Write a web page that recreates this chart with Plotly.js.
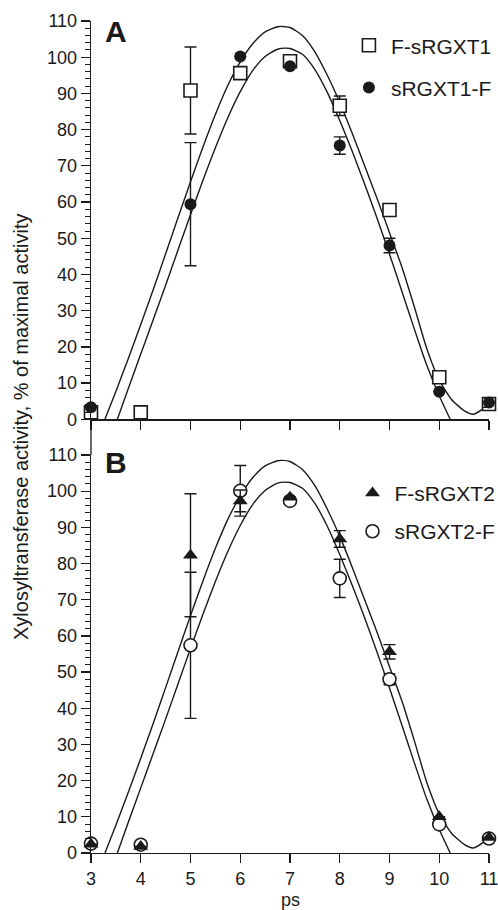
<!DOCTYPE html>
<html>
<head>
<meta charset="utf-8">
<script src="https://cdn.plot.ly/plotly-3.0.1.min.js"></script>
<style>html,body{margin:0;padding:0;background:#fff;}#chart{width:498px;height:910px;}</style>
</head>
<body>
<div id="chart"></div>
<script>
// ---- data ----
const ps = [3, 4, 5, 6, 7, 8, 9, 10, 11];
const xTicks = [3, 4, 5, 6, 7, 8, 9, 10, 11];
const yTicks = [0, 10, 20, 30, 40, 50, 60, 70, 80, 90, 100, 110];

// Panel A
const fSRGXT1 = [1.9, 1.9, 90.8, 95.6, 98.9, 86.6, 57.8, 11.6, 4.2];
const fSRGXT1Err = [null, null, 12, null, null, 2.7, null, null, null];
const sRGXT1F = [3.3, null, 59.4, 100.2, 97.5, 75.6, 48.0, 7.6, 4.6];
const sRGXT1FErr = [null, null, 17, null, null, 2.4, 2, null, 1.3];

// Panel B
const fSRGXT2 = [2.4, 1.8, 82.3, 97.3, 98.3, 86.8, 55.6, 10.0, 4.3];
const fSRGXT2Err = [null, null, 17, 3, null, 2.3, 2, null, null];
const sRGXT2F = [2.6, 2.3, 57.4, 100.1, 97.3, 75.9, 48.0, 7.9, 4.0];
const sRGXT2FErr = [null, null, 20.2, 7, null, 5.3, 1.5, null, null];

// fitted curves
const fitUpperX = [3.28, 3.5, 3.75, 4.0, 4.25, 4.5, 4.75, 5.0, 5.25, 5.5, 5.75, 6.0, 6.25, 6.5, 6.75, 6.85, 7.0, 7.25, 7.5, 7.75, 8.0, 8.25, 8.5, 8.75, 9.0, 9.25, 9.5, 9.75, 10.0, 10.25, 10.5, 10.68, 10.85, 11.0];
const fitUpperY = [0, 7.7, 16.8, 26.2, 35.8, 45.7, 55.7, 65.6, 75.2, 84.2, 92.2, 98.7, 103.7, 107, 108.4, 108.5, 108.2, 106, 101.5, 95, 87.5, 79, 70, 61, 51.5, 42, 31, 19.5, 10.8, 5.4, 2.4, 1.4, 2.6, 4.5];
const fitLowerX = [3.53, 3.75, 4.0, 4.25, 4.5, 4.75, 5.0, 5.25, 5.5, 5.75, 6.0, 6.25, 6.5, 6.75, 6.9, 7.0, 7.25, 7.5, 7.75, 8.0, 8.25, 8.5, 8.75, 9.0, 9.25, 9.5, 9.75, 10.0, 10.22];
const fitLowerY = [0, 8.5, 18, 27.5, 37, 46.8, 56.5, 66, 75, 83.3, 90.5, 96.3, 100.2, 102.2, 102.5, 102.4, 100.8, 96.6, 90.3, 82.5, 74, 65, 55.5, 45.6, 35.3, 24.9, 14.9, 6.5, 0];

// ---- styling ----
const FONT = 'Liberation Sans, Arial, Helvetica, sans-serif';
const INK = '#1a1a1a';

function err(arr) {
  return {type: 'data', array: arr, visible: true, color: INK, thickness: 1.4, width: 6};
}
function curve(x, y, xa, ya) {
  return {x: x, y: y, xaxis: xa, yaxis: ya, mode: 'lines', showlegend: false, hoverinfo: 'skip',
    line: {color: INK, width: 1.4, shape: 'spline', smoothing: 0.6}, cliponaxis: true};
}

const traces = [
  curve(fitUpperX, fitUpperY, 'x', 'y'),
  curve(fitLowerX, fitLowerY, 'x', 'y'),
  curve(fitUpperX, fitUpperY, 'x2', 'y2'),
  curve(fitLowerX, fitLowerY, 'x2', 'y2'),
  {x: ps, y: fSRGXT1, xaxis: 'x', yaxis: 'y', mode: 'markers', name: 'F-sRGXT1',
   legend: 'legend', legendgroup: 'a1', legendrank: 1, error_y: err(fSRGXT1Err), cliponaxis: false,
   marker: {symbol: 'square', size: 13, color: '#fff', line: {width: 1.6, color: INK}}},
  {x: ps, y: sRGXT1F, xaxis: 'x', yaxis: 'y', mode: 'markers', name: 'sRGXT1-F',
   legend: 'legend', legendgroup: 'a2', legendrank: 2, error_y: err(sRGXT1FErr), cliponaxis: false,
   marker: {symbol: 'circle', size: 12, color: INK, line: {width: 0}}},
  {x: ps, y: sRGXT2F, xaxis: 'x2', yaxis: 'y2', mode: 'markers', name: 'sRGXT2-F',
   legend: 'legend2', legendgroup: 'b2', legendrank: 2, error_y: err(sRGXT2FErr), cliponaxis: false,
   marker: {symbol: 'circle', size: 13, color: '#fff', line: {width: 1.6, color: INK}}},
  {x: ps, y: fSRGXT2, xaxis: 'x2', yaxis: 'y2', mode: 'markers', name: 'F-sRGXT2',
   legend: 'legend2', legendgroup: 'b1', legendrank: 1, error_y: err(fSRGXT2Err), cliponaxis: false,
   marker: {symbol: 'triangle-up', size: 13, color: INK, line: {width: 0}}}
];

const tickFont = {family: FONT, size: 18, color: INK};
function yax(domain) {
  return {domain: domain, range: [0, 110], tickvals: yTicks, ticktext: yTicks.map(String),
    ticks: 'outside', ticklen: 9, tickwidth: 1.3, tickcolor: INK,
    showline: true, linecolor: INK, linewidth: 1.3, showgrid: false, zeroline: false,
    tickfont: tickFont, fixedrange: true, ticklabeloverflow: 'allow',
    minor: {dtick: 2, ticks: 'outside', ticklen: 5, tickwidth: 1, tickcolor: INK, showgrid: false}};
}
function xax(showLabels, anchor) {
  return {range: [3, 11], tickvals: xTicks, ticktext: xTicks.map(String), anchor: anchor,
    ticks: 'outside', ticklen: 9, tickwidth: 1.3, tickcolor: INK,
    showline: true, linecolor: INK, linewidth: 1.3, showgrid: false, zeroline: false,
    showticklabels: showLabels, tickfont: tickFont, fixedrange: true, ticklabeloverflow: 'allow'};
}

const legFont = {family: FONT, size: 21, color: INK};
const layout = {
  width: 498, height: 910,
  margin: {l: 91, r: 9, t: 21, b: 57, autoexpand: false},
  paper_bgcolor: '#fff', plot_bgcolor: 'rgba(0,0,0,0)',
  showlegend: true,
  xaxis: xax(false, 'y'),
  yaxis: yax([0.5213, 1]),
  xaxis2: xax(true, 'y2'),
  yaxis2: yax([0, 0.4784]),
  legend: {x: 0.643, y: 0.995, xanchor: 'left', yanchor: 'top', font: legFont,
    bgcolor: 'rgba(0,0,0,0)', tracegroupgap: 12, traceorder: 'grouped', itemwidth: 34},
  legend2: {x: 0.652, y: 0.457, xanchor: 'left', yanchor: 'top', font: legFont,
    bgcolor: 'rgba(0,0,0,0)', tracegroupgap: 8, traceorder: 'grouped', itemwidth: 34},
  shapes: [
    {type: 'line', xref: 'paper', yref: 'paper', x0: 0, x1: 0, y0: 0.4784, y1: 0.5213,
     line: {color: INK, width: 1.3}}
  ],
  annotations: [
    {text: '<b>A</b>', xref: 'paper', yref: 'paper', x: 0.063, y: 0.987, showarrow: false,
     xanchor: 'center', yanchor: 'middle', font: {family: FONT, size: 30, color: INK}},
    {text: '<b>B</b>', xref: 'paper', yref: 'paper', x: 0.063, y: 0.469, showarrow: false,
     xanchor: 'center', yanchor: 'middle', font: {family: FONT, size: 30, color: INK}},
    {text: 'Xylosyltransferase activity, % of maximal activity', xref: 'paper', yref: 'paper',
     x: -0.176, y: 0.512, textangle: -90, showarrow: false, xanchor: 'center', yanchor: 'middle',
     font: {family: FONT, size: 20, color: INK}},
    {text: 'ps', xref: 'x2', yref: 'paper', x: 7, y: -0.0565, showarrow: false,
     xanchor: 'center', yanchor: 'middle', font: {family: FONT, size: 18, color: INK}}
  ]
};

Plotly.newPlot('chart', traces, layout, {displayModeBar: false, staticPlot: true});
</script>
</body>
</html>
